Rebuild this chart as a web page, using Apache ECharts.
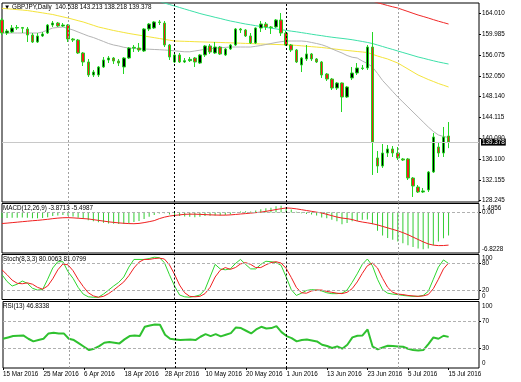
<!DOCTYPE html>
<html><head><meta charset="utf-8">
<script src="https://cdn.jsdelivr.net/npm/echarts@6/dist/echarts.min.js"></script>
<style>html,body{margin:0;padding:0;background:#fff}#c{width:521px;height:382px}</style>
</head><body><div id="c"></div>
<script>
const dates = ['15 Mar 2016','16 Mar 2016','17 Mar 2016','18 Mar 2016','21 Mar 2016','22 Mar 2016','23 Mar 2016','24 Mar 2016','25 Mar 2016','28 Mar 2016','29 Mar 2016','30 Mar 2016','31 Mar 2016',
'1 Apr 2016','4 Apr 2016','5 Apr 2016','6 Apr 2016','7 Apr 2016','8 Apr 2016','11 Apr 2016','12 Apr 2016','13 Apr 2016','14 Apr 2016','15 Apr 2016','18 Apr 2016','19 Apr 2016','20 Apr 2016','21 Apr 2016','22 Apr 2016','25 Apr 2016','26 Apr 2016','27 Apr 2016','28 Apr 2016','29 Apr 2016',
'2 May 2016','3 May 2016','4 May 2016','5 May 2016','6 May 2016','9 May 2016','10 May 2016','11 May 2016','12 May 2016','13 May 2016','16 May 2016','17 May 2016','18 May 2016','19 May 2016','20 May 2016','23 May 2016','24 May 2016','25 May 2016','26 May 2016','27 May 2016','30 May 2016','31 May 2016',
'1 Jun 2016','2 Jun 2016','3 Jun 2016','6 Jun 2016','7 Jun 2016','8 Jun 2016','9 Jun 2016','10 Jun 2016','13 Jun 2016','14 Jun 2016','15 Jun 2016','16 Jun 2016','17 Jun 2016','20 Jun 2016','21 Jun 2016','22 Jun 2016','23 Jun 2016','24 Jun 2016','27 Jun 2016','28 Jun 2016','29 Jun 2016','30 Jun 2016',
'1 Jul 2016','4 Jul 2016','5 Jul 2016','6 Jul 2016','7 Jul 2016','8 Jul 2016','11 Jul 2016','12 Jul 2016','13 Jul 2016','14 Jul 2016','15 Jul 2016'];

const opens = [162.73,160.24,160.43,161.20,161.30,161.01,159.86,158.52,159.67,160.24,161.77,162.15,161.58,
161.77,159.09,158.90,156.42,154.70,152.21,152.21,153.74,155.08,155.46,154.89,153.74,155.46,157.37,157.37,156.80,161.01,161.20,162.35,162.15,157.95,
154.70,156.04,154.70,154.95,155.46,154.50,156.04,157.76,156.42,157.56,156.04,157.18,157.95,161.01,160.82,159.67,158.33,161.20,161.96,161.39,161.39,162.73,
160.24,157.95,156.99,154.12,155.27,156.23,155.27,154.70,152.40,151.44,149.72,150.68,148.00,151.64,152.59,153.55,153.55,157.56,136.34,134.80,137.29,138.06,
137.29,136.15,136.15,132.51,130.79,129.83,130.22,133.66,138.44,137.29,140.538];
const highs = [163.11,161.01,161.77,161.77,161.39,161.39,160.24,160.24,160.43,161.96,162.54,162.35,162.15,
161.96,159.28,159.09,156.61,155.27,153.17,153.93,155.65,155.84,155.65,155.27,155.65,157.56,157.95,158.33,161.20,162.15,162.54,162.73,162.54,158.14,
156.42,156.42,155.46,155.65,155.65,156.23,157.95,158.14,158.52,157.76,157.37,158.14,161.20,161.20,161.01,160.24,161.30,162.54,162.35,161.58,162.92,164.07,
160.62,158.14,157.18,155.65,157.95,156.42,155.46,154.89,152.59,151.64,150.87,150.78,150.11,153.74,154.50,154.12,157.95,160.43,137.68,139.01,138.82,138.63,
138.44,136.34,136.34,132.70,131.17,130.60,133.85,141.12,139.40,142.27,143.213];
const lows = [159.86,159.86,160.24,160.82,160.24,158.52,158.33,158.33,159.48,160.05,161.39,161.39,161.39,
158.52,158.52,156.23,153.93,151.83,151.83,151.83,153.55,154.50,154.31,153.93,152.40,155.27,156.61,156.61,156.61,160.62,161.01,161.77,157.56,155.08,
154.50,154.50,154.50,154.70,153.74,154.31,155.65,156.23,156.23,156.04,155.84,156.99,157.76,160.24,159.48,158.14,158.14,160.43,160.82,160.05,161.20,159.67,
157.76,156.61,154.50,152.78,154.89,154.89,154.50,151.64,151.06,149.34,149.34,145.13,147.81,151.25,152.21,153.17,153.17,133.09,133.47,134.43,136.53,136.53,
135.95,135.76,132.13,128.88,129.64,129.64,129.83,133.47,136.53,136.53,138.218];
const closes = [160.24,160.62,161.20,161.30,161.15,159.86,158.52,159.67,160.05,161.77,162.15,161.58,161.77,
159.09,158.90,156.42,154.70,152.21,152.78,153.74,155.08,155.46,154.89,154.50,155.46,157.37,157.50,156.99,161.01,161.96,162.35,162.25,157.95,155.65,
156.04,154.70,154.95,155.20,154.70,156.04,157.76,156.61,157.56,156.23,157.18,157.95,161.01,160.82,159.67,158.33,161.20,161.96,161.39,161.30,162.73,160.24,
157.95,156.99,154.70,155.46,156.23,155.27,154.70,152.21,151.44,149.72,150.68,148.00,149.92,152.59,153.55,153.45,157.56,139.40,134.80,137.29,138.06,137.29,
136.34,135.95,132.51,130.98,129.83,130.03,133.66,140.35,137.29,140.35,139.378];

const maYellow = [164.97,164.88,164.80,164.71,164.63,164.54,164.39,164.24,164.09,163.93,163.78,163.55,163.33,163.11,162.86,162.60,162.35,162.03,161.71,161.39,161.17,160.94,160.72,160.53,160.34,160.15,159.99,159.83,159.67,159.51,159.35,159.19,159.03,158.87,158.71,158.68,158.65,158.62,158.58,158.55,158.52,158.49,158.46,158.43,158.39,158.36,158.33,158.29,158.25,158.22,158.18,158.14,158.11,158.08,158.05,158.01,157.98,157.95,157.87,157.79,157.71,157.63,157.55,157.47,157.36,157.24,157.13,157.01,156.90,156.80,156.70,156.61,156.51,156.18,155.84,155.55,155.27,154.88,154.50,153.93,153.36,152.78,152.21,151.78,151.35,150.97,150.58,150.25,149.92];
const maGray = [160.24,160.24,160.24,160.24,160.24,160.24,160.24,160.24,160.43,160.82,161.20,161.29,161.39,161.10,160.82,160.43,160.05,159.67,159.38,159.00,158.62,158.23,157.95,157.76,157.51,157.37,157.28,157.22,157.18,157.14,157.09,157.05,156.99,156.93,156.84,156.74,156.65,156.65,156.80,156.95,157.13,157.22,157.34,157.41,157.49,157.56,157.56,157.56,157.56,157.56,157.70,157.85,158.04,158.23,158.43,158.58,158.71,158.71,158.71,158.71,158.62,158.43,158.23,158.00,157.66,157.22,156.80,156.42,155.94,155.61,155.46,154.89,154.41,153.74,152.50,151.16,150.11,149.05,148.00,147.05,146.09,145.13,144.18,143.22,142.27,141.41,140.74,140.45,140.26];
const maTeal = [null,null,null,null,null,null,null,null,null,null,null,null,null,null,null,null,null,null,null,null,null,null,null,null,null,null,null,null,null,167.13,166.55,166.27,165.98,165.69,165.41,165.12,164.83,164.54,164.26,163.97,163.72,163.49,163.24,163.02,162.77,162.54,162.35,162.15,161.96,161.81,161.64,161.49,161.31,161.16,161.03,160.87,160.74,160.60,160.47,160.32,160.17,160.01,159.86,159.73,159.57,159.44,159.32,159.21,159.09,158.96,158.79,158.62,158.44,158.23,157.95,157.66,157.37,157.09,156.80,156.51,156.23,155.94,155.65,155.42,155.17,154.93,154.70,154.50,154.31];
const maRed = [null,null,null,null,null,null,null,null,null,null,null,null,null,null,null,null,null,null,null,null,null,null,null,null,null,null,null,null,null,null,null,null,null,null,null,null,null,null,null,null,null,null,null,null,null,null,null,null,null,null,null,null,null,null,null,null,null,null,null,null,null,null,null,null,null,null,null,null,null,null,null,null,166.65,166.36,166.04,165.77,165.50,165.25,165.02,164.68,164.35,164.01,163.68,163.40,163.11,162.80,162.50,162.23,161.96];

const macdMain = [-0.95,-0.95,-0.90,-0.90,-0.85,-0.90,-1.00,-1.00,-0.95,-0.80,-0.60,-0.50,-0.45,-0.55,-0.70,-0.90,-1.10,-1.30,-1.50,-1.65,-1.75,-1.85,-1.90,-1.95,-1.95,-1.80,-1.60,-1.45,-1.10,-0.75,-0.45,-0.20,-0.15,-0.35,-0.50,-0.60,-0.70,-0.75,-0.80,-0.75,-0.60,-0.55,-0.50,-0.50,-0.45,-0.35,-0.05,0.15,0.20,0.15,0.30,0.55,0.70,0.80,1.05,1.10,0.85,0.50,0.10,-0.15,-0.25,-0.35,-0.50,-0.85,-1.00,-1.25,-1.50,-2.00,-1.80,-1.50,-1.45,-1.25,-1.20,-2.00,-3.10,-3.90,-4.30,-4.60,-4.90,-5.20,-5.50,-5.80,-6.05,-6.20,-6.05,-5.50,-4.90,-4.35,-3.8713];
const macdSignal = [-1.87,-1.80,-1.72,-1.64,-1.56,-1.48,-1.40,-1.34,-1.25,-1.16,-1.05,-0.96,-0.90,-0.88,-0.92,-0.98,-1.04,-1.10,-1.22,-1.34,-1.46,-1.58,-1.68,-1.76,-1.83,-1.88,-1.90,-1.85,-1.72,-1.56,-1.38,-1.05,-0.80,-0.62,-0.50,-0.42,-0.32,-0.30,-0.30,-0.33,-0.37,-0.41,-0.44,-0.46,-0.46,-0.42,-0.35,-0.27,-0.20,-0.12,-0.04,0.04,0.18,0.32,0.48,0.62,0.74,0.70,0.60,0.46,0.32,0.18,0.04,-0.10,-0.32,-0.55,-0.78,-0.95,-1.05,-1.20,-1.45,-1.62,-1.75,-1.90,-2.10,-2.35,-2.60,-2.85,-3.10,-3.40,-3.75,-4.15,-4.55,-4.95,-5.30,-5.50,-5.58,-5.57,-5.4987];

const stochK = [55,40,30,34,41,36,25,21,22,45,70,84,84,62,47,27,12,6,5,5,12,21,30,38,50,72,89,89,89,91,94,93,82,55,30,10,6,5,7,10,22,50,78,68,66,68,80,89,78,68,68,78,85,84,82,76,50,22,9,14,20,22,21,19,15,13,13,14,21,38,57,78,90,75,45,22,14,12,11,9,8,7,7,9,18,45,72,88,80.0063];
const stochD = [66,55,43,36,35,37,34,27,23,30,46,66,79,77,64,45,29,15,8,5,7,13,21,30,39,53,70,83,89,89,91,92,90,77,56,32,15,7,6,7,13,27,50,65,71,67,71,79,82,78,71,71,77,82,84,81,69,49,27,15,14,19,21,21,18,16,14,13,16,24,39,58,75,81,70,47,27,16,12,11,9,8,7,8,11,24,45,68,81.0799];

const rsi = [44,46,48,48.5,49,44,40,42,44,52,53,52,52,44,42,37,32,27,29,33,38,39,38,37,43,48,49,48,62,64,65.5,65,50,44,43,42,42.5,43,42,47,51,48,51,47.5,50,52.5,61,60,56,52,58,62,59.5,60,63,54,48,45,40,42,43,41.5,40,35,33,30,32.5,29,35,46,48.5,49,58,32,28,31,33.5,33,32.5,32,29,27,26.5,27,36,46,44,48.5,46.8338];

const priceTicks = [128.245,132.155,136.100,140.090,144.115,148.140,152.050,156.075,159.985,164.010];
const macdRange = [-6.8228, 1.4956];
const macdTicks = [0];
const stochTicks = [20,80];
const rsiTicks = [30,70];
const panelEdgeLabels = [
  { text: '1.4956', y: 208.3 }, { text: '-6.8228', y: 249.3 },
  { text: '100', y: 258.3 }, { text: '0', y: 296.3 },
  { text: '100', y: 306 }, { text: '0', y: 363.3 }
];
const stochLevels = [20,80];
const rsiLevels = [30,70];
const monthStarts = ['1 Apr 2016','2 May 2016','1 Jun 2016','1 Jul 2016'];
const monthColors = ['#a0a0a0','#000000','#000000','#a0a0a0'];
const lastPrice = 139.378;
const headerText = '\u25BC GBPJPY,Daily  140.538 143.213 138.218 139.378';
const macdText = 'MACD(12,26,9) -3.8713 -5.4987';
const stochText = 'Stoch(8,3,3) 80.0063 81.0799';
const rsiText = 'RSI(13) 46.8338';
const shiftBars = 6;

const FONT = "'Liberation Sans','DejaVu Sans',Arial,sans-serif";
const FS = 6.3;
const GREEN = '#22d622';

const xCats = dates.concat(new Array(shiftBars).fill(''));
const candleData = opens.map((o, i) => [o, closes[i], lows[i], highs[i]]);

const sepLines = monthStarts.map((d, i) => ({
  xAxis: d, lineStyle: { color: monthColors[i], type: [2, 2], width: 1 }, label: { show: false }
}));
function levelLines(vals) {
  return vals.map(v => ({ yAxis: v, lineStyle: { color: '#b0b0b0', type: [3, 2], width: 1 }, label: { show: false } }));
}
const mlBase = { symbol: 'none', silent: true, animation: false, label: { show: false }, emphasis: { disabled: true } };

const grids = [
  { left: 2, top: 3, width: 477, height: 199 },
  { left: 2, top: 203.5, width: 477, height: 49.5 },
  { left: 2, top: 254.5, width: 477, height: 45 },
  { left: 2, top: 301.5, width: 477, height: 66.5 }
].map(g => Object.assign(g, { show: true, borderColor: '#000', borderWidth: 1 }));

const xAxes = [0, 1, 2, 3].map(i => ({
  type: 'category', gridIndex: i, data: xCats, boundaryGap: false,
  axisLine: { show: false }, splitLine: { show: false },
  axisTick: { show: i === 3, interval: 7, length: 2, lineStyle: { color: '#000' } },
  axisLabel: { show: i === 3, interval: 7, align: 'left', margin: 3, fontSize: FS, color: '#000', fontFamily: FONT, hideOverlap: false }
}));

function yAx(i, min, max, ticks, fmt) {
  return {
    type: 'value', gridIndex: i, position: 'right', min: min, max: max,
    splitLine: { show: false }, axisLine: { show: false },
    axisTick: { show: true, customValues: ticks, length: 2, lineStyle: { color: '#000' } },
    axisLabel: { customValues: ticks, formatter: fmt, margin: 3, fontSize: FS, color: '#000', fontFamily: FONT, hideOverlap: false }
  };
}

const txtStyle = { fontSize: FS, fontWeight: 'normal', color: '#000', fontFamily: FONT };
const titles = [
  { text: headerText, left: 4, top: 4 },
  { text: macdText, left: 3, top: 205.5 },
  { text: stochText, left: 3, top: 256.5 },
  { text: rsiText, left: 3, top: 303.5 }
].map(t => Object.assign(t, { padding: 0, textStyle: Object.assign({}, txtStyle) }));

const edgeGraphics = panelEdgeLabels.map(e => ({
  type: 'text', x: 482, y: e.y, z: 100, silent: true,
  style: { text: e.text, fill: '#000', font: FS + 'px ' + FONT, textAlign: 'left', textVerticalAlign: 'middle', verticalAlign: 'middle' }
}));

const option = {
  animation: false,
  backgroundColor: '#fff',
  textStyle: { fontFamily: FONT },
  title: titles,
  graphic: edgeGraphics,
  grid: grids,
  xAxis: xAxes,
  yAxis: [
    yAx(0, 127.92, 165.98, priceTicks, v => v.toFixed(3)),
    yAx(1, macdRange[0], macdRange[1], macdTicks, v => (v === 0 ? '0.00' : String(v))),
    yAx(2, 0, 100, stochTicks, v => String(v)),
    yAx(3, 0, 100, rsiTicks, v => String(v))
  ],
  series: [
    { type: 'line', xAxisIndex: 0, yAxisIndex: 0, data: maRed, showSymbol: false, z: 2, lineStyle: { color: '#f02828', width: 1 } },
    { type: 'line', xAxisIndex: 0, yAxisIndex: 0, data: maTeal, showSymbol: false, z: 2, lineStyle: { color: '#3de0a8', width: 1 } },
    { type: 'line', xAxisIndex: 0, yAxisIndex: 0, data: maYellow, showSymbol: false, z: 2, lineStyle: { color: '#f4e43a', width: 1 } },
    { type: 'line', xAxisIndex: 0, yAxisIndex: 0, data: maGray, showSymbol: false, z: 2, lineStyle: { color: '#b4b4b4', width: 1 } },
    {
      type: 'candlestick', xAxisIndex: 0, yAxisIndex: 0, data: candleData, barWidth: 3, z: 3, clip: true,
      itemStyle: { color: '#000', color0: '#ee1c1c', borderColor: GREEN, borderColor0: GREEN, borderWidth: 1 },
      markLine: Object.assign({}, mlBase, {
        data: [{
          yAxis: lastPrice, lineStyle: { color: '#c8c8c8', type: 'solid', width: 1 },
          label: { show: true, position: 'end', distance: 2, formatter: lastPrice.toFixed(3), color: '#fff', backgroundColor: '#000', padding: [1, 1, 0, 1], fontSize: FS, fontFamily: FONT }
        }].concat(sepLines)
      })
    },
    {
      type: 'bar', xAxisIndex: 1, yAxisIndex: 1, data: macdMain, barWidth: 1, itemStyle: { color: '#33cc33' },
      markLine: Object.assign({}, mlBase, { data: levelLines([0]).concat(sepLines) })
    },
    { type: 'line', xAxisIndex: 1, yAxisIndex: 1, data: macdSignal, showSymbol: false, lineStyle: { color: '#f02020', width: 1 } },
    {
      type: 'line', xAxisIndex: 2, yAxisIndex: 2, data: stochK, showSymbol: false, lineStyle: { color: '#2ed62e', width: 1 },
      markLine: Object.assign({}, mlBase, { data: levelLines(stochLevels).concat(sepLines) })
    },
    { type: 'line', xAxisIndex: 2, yAxisIndex: 2, data: stochD, showSymbol: false, lineStyle: { color: '#f02020', width: 1 } },
    {
      type: 'line', xAxisIndex: 3, yAxisIndex: 3, data: rsi, showSymbol: false, lineStyle: { color: '#2fc12f', width: 2 },
      markLine: Object.assign({}, mlBase, { data: levelLines(rsiLevels).concat(sepLines) })
    }
  ]
};
const chart = echarts.init(document.getElementById('c'));
chart.setOption(option);
</script></body></html>
